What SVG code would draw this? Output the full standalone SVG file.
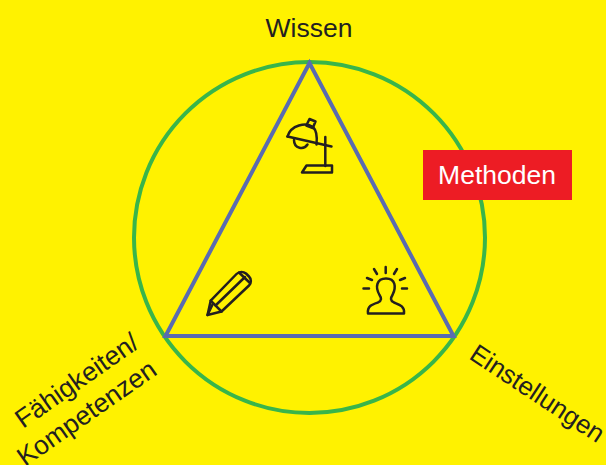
<svg xmlns="http://www.w3.org/2000/svg" width="606" height="465" viewBox="0 0 606 465">
<style>
.t{font-family:"Liberation Sans",Arial,sans-serif;font-size:26.5px;fill:#231f20}
.r{font-size:25.8px}
.l{font-size:26.4px}
.i{fill:none;stroke:#231f20;stroke-width:2.5;stroke-linejoin:round;stroke-linecap:round}
</style>
<rect width="606" height="465" fill="#fff200"/>
<g id="connectors">
<circle cx="309.5" cy="237.5" r="175.5" fill="none" stroke="#39b54a" stroke-width="4"/>
<path d="M309.5 63L165.500 336H453.500Z" fill="none" stroke="#5a6bb0" stroke-width="4" stroke-linejoin="miter"/>
</g>
<g id="wissen"><text class="t" x="309" y="37" text-anchor="middle">Wissen</text></g>
<g id="methoden"><rect x="423" y="150" width="149" height="50" fill="#ed1c24"/><text class="t" x="497" y="184" text-anchor="middle" style="fill:#fff">Methoden</text></g>
<g id="faehigkeiten"><text class="t l" transform="translate(23 429) rotate(-35)">Fähigkeiten/</text><text class="t l" transform="translate(25 467) rotate(-35)">Kompetenzen</text></g>
<g id="einstellungen"><text class="t r" transform="translate(468 358) rotate(33.500)">Einstellungen</text></g>
<g id="lamp" class="i"><path d="M287.500 136.500L331.500 146.500"/><path d="M287.500 136.500C291 125 306 122 313 127C317 131 317 140 316.500 144.500"/><path d="M309.500 119L315.500 121.500L312.800 128L306.300 125.500Z"/><path d="M294 140C294 149 304 150 307.500 144.500"/><path d="M325.300 137V166"/><path d="M302 172.500H332V165.500H306.500Z"/></g>
<g id="pencil" class="i"><path d="M207.500 315L210.700 300.700L236.500 274C239.500 271 243.500 271.500 246 273.500L249 276.500C251.500 279 251.500 283 249 285.500L221.500 311.500Z"/><path d="M210.700 300.700L221.500 311.500"/><path d="M215.500 305.500L245 277"/><path d="M207.500 315L213 303.500"/><path d="M239 272.500L250 283"/></g>
<g id="person" class="i"><path d="M385.700 267V273M374 269L377 274M397 269L394 274M367 278L372 280M405 278L400 280M363.500 288.500H369M402 288.500H407"/><path d="M368 313.500C367 306 372 304.500 378 302.500C382 300.500 381.500 298 379.500 295C375 287 376.500 278.500 386 278.500C395.500 278.500 396.500 287 392.500 295C390.500 298 390 300.500 394 302.500C399 304.500 405 306 404 313.500Z"/></g>
</svg>
